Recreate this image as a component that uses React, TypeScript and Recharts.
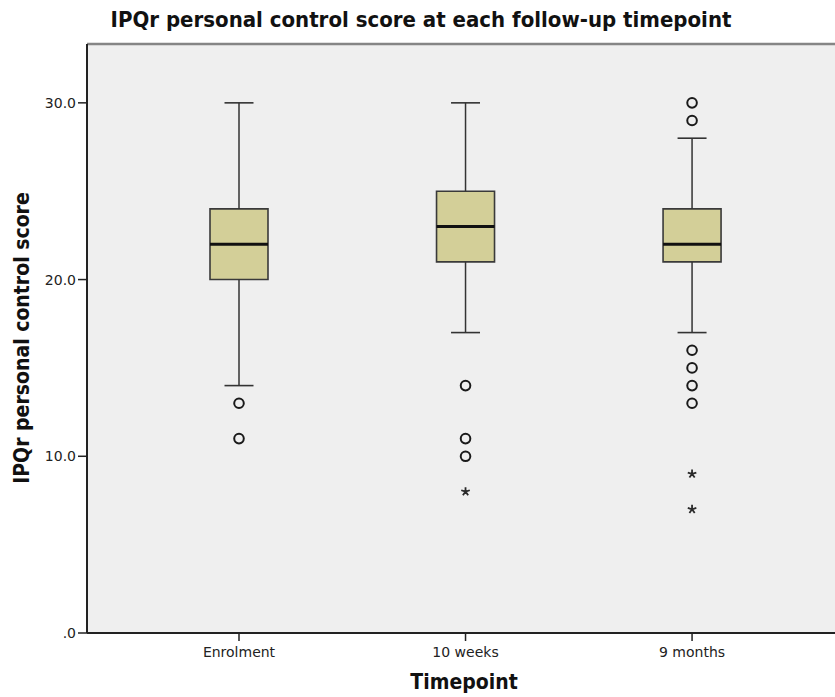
import React from 'react';
import {
  ComposedChart,
  XAxis,
  YAxis,
  CartesianGrid,
  ReferenceArea,
  ReferenceLine,
  Scatter,
} from 'recharts';

// Box-plot summary of IPQr personal control score per timepoint
const timepoints = ['Enrolment', '10 weeks', '9 months'];
const whiskerLow = [14, 17, 17];
const quartile1 = [20, 21, 21];
const medians = [22, 23, 22];
const quartile3 = [24, 25, 24];
const whiskerHigh = [30, 30, 28];
// Outliers (circles) and extreme values (stars)
const outlierValues = [[13, 11], [14, 11, 10], [30, 29, 16, 15, 14, 13]];
const extremeValues = [[], [8], [9, 7]];
const yTicks = [0, 10, 20, 30];

const Y_MAX = 33.33;
const X_DOMAIN: [number, number] = [0.329, 3.631];
const BOX_HALF = 0.128;
const CAP_HALF = 0.064;

const outlierPoints = outlierValues.flatMap((vals, i) => vals.map((v) => ({ x: i + 1, y: v })));
const extremePoints = extremeValues.flatMap((vals, i) => vals.map((v) => ({ x: i + 1, y: v })));

const CircleMark = (props: any) => (
  <circle cx={props.cx} cy={props.cy} r={4.8} fill="none" stroke="#1a1a1a" strokeWidth={2} />
);

const StarMark = (props: any) => {
  const { cx, cy } = props;
  const r = 4.5;
  const d = [0, 1, 2, 3, 4]
    .map((k) => {
      const a = -Math.PI / 2 + (k * 2 * Math.PI) / 5;
      return `M${cx},${cy}L${cx + r * Math.cos(a)},${cy + r * Math.sin(a)}`;
    })
    .join('');
  return <path d={d} stroke="#2a2a2a" strokeWidth={1.8} fill="none" />;
};

const titleFont = '"DejaVu Sans Condensed", "DejaVu Sans", sans-serif';
const tickFont = '"DejaVu Sans", sans-serif';

export default function App() {
  return (
    <div style={{ position: 'absolute', left: 0, top: 0, width: 835, height: 697, background: '#fff', fontFamily: titleFont }}>
      <div
        style={{
          position: 'absolute',
          left: 421,
          top: 19,
          transform: 'translate(-50%, -50%)',
          fontWeight: 'bold',
          fontSize: 22,
          color: '#111',
          whiteSpace: 'nowrap',
          fontStretch: 'condensed',
        }}
      >
        IPQr personal control score at each follow-up timepoint
      </div>
      <div
        style={{
          position: 'absolute',
          left: 22,
          top: 338,
          transform: 'translate(-50%, -50%) rotate(-90deg)',
          fontWeight: 'bold',
          fontSize: 21,
          color: '#111',
          whiteSpace: 'nowrap',
          fontStretch: 'condensed',
        }}
      >
        IPQr personal control score
      </div>
      <div
        style={{
          position: 'absolute',
          left: 464,
          top: 682,
          transform: 'translate(-50%, -50%)',
          fontWeight: 'bold',
          fontSize: 21,
          color: '#111',
          whiteSpace: 'nowrap',
          fontStretch: 'condensed',
        }}
      >
        Timepoint
      </div>
      <div style={{ position: 'absolute', left: 0, top: 0 }}>
        <ComposedChart width={835} height={697} margin={{ top: 44, right: 0, bottom: 0, left: 0 }}>
          <CartesianGrid fill="#efefef" horizontal={false} vertical={false} stroke="none" />
          <XAxis
            type="number"
            dataKey="x"
            domain={X_DOMAIN}
            ticks={[1, 2, 3]}
            allowDataOverflow
            height={64}
            tickFormatter={(v: number) => timepoints[v - 1]}
            tickSize={8}
            tickMargin={6}
            axisLine={{ stroke: '#222', strokeWidth: 2 }}
            tickLine={{ stroke: '#222', strokeWidth: 1.5 }}
            tick={{ fill: '#222', fontSize: 14, fontFamily: tickFont }}
          />
          <YAxis
            type="number"
            dataKey="y"
            domain={[0, Y_MAX]}
            ticks={yTicks}
            allowDataOverflow
            width={87}
            tickFormatter={(v: number) => (v === 0 ? '.0' : v.toFixed(1))}
            tickSize={9}
            tickMargin={2}
            axisLine={{ stroke: '#222', strokeWidth: 2 }}
            tickLine={{ stroke: '#222', strokeWidth: 1.5 }}
            tick={{ fill: '#222', fontSize: 14, fontFamily: tickFont }}
          />
          <ReferenceLine y={Y_MAX} stroke="#858585" strokeWidth={2.5} ifOverflow="visible" />
          {timepoints.map((_, i) => {
            const x = i + 1;
            return (
              <ReferenceLine
                key={`wl-${i}`}
                segment={[{ x, y: whiskerLow[i] }, { x, y: quartile1[i] }]}
                stroke="#333"
                strokeWidth={1.5}
              />
            );
          })}
          {timepoints.map((_, i) => {
            const x = i + 1;
            return (
              <ReferenceLine
                key={`wh-${i}`}
                segment={[{ x, y: quartile3[i] }, { x, y: whiskerHigh[i] }]}
                stroke="#333"
                strokeWidth={1.5}
              />
            );
          })}
          {timepoints.map((_, i) => (
            <ReferenceLine
              key={`cl-${i}`}
              segment={[{ x: i + 1 - CAP_HALF, y: whiskerLow[i] }, { x: i + 1 + CAP_HALF, y: whiskerLow[i] }]}
              stroke="#333"
              strokeWidth={1.6}
            />
          ))}
          {timepoints.map((_, i) => (
            <ReferenceLine
              key={`ch-${i}`}
              segment={[{ x: i + 1 - CAP_HALF, y: whiskerHigh[i] }, { x: i + 1 + CAP_HALF, y: whiskerHigh[i] }]}
              stroke="#333"
              strokeWidth={1.6}
            />
          ))}
          {timepoints.map((_, i) => (
            <ReferenceArea
              key={`box-${i}`}
              x1={i + 1 - BOX_HALF}
              x2={i + 1 + BOX_HALF}
              y1={quartile1[i]}
              y2={quartile3[i]}
              fill="#d3cf98"
              fillOpacity={1}
              stroke="#3a3a3a"
              strokeWidth={1.6}
            />
          ))}
          {timepoints.map((_, i) => (
            <ReferenceLine
              key={`med-${i}`}
              segment={[{ x: i + 1 - BOX_HALF, y: medians[i] }, { x: i + 1 + BOX_HALF, y: medians[i] }]}
              stroke="#111"
              strokeWidth={3}
            />
          ))}
          <Scatter data={outlierPoints} shape={CircleMark} isAnimationActive={false} />
          <Scatter data={extremePoints} shape={StarMark} isAnimationActive={false} />
        </ComposedChart>
      </div>
    </div>
  );
}
